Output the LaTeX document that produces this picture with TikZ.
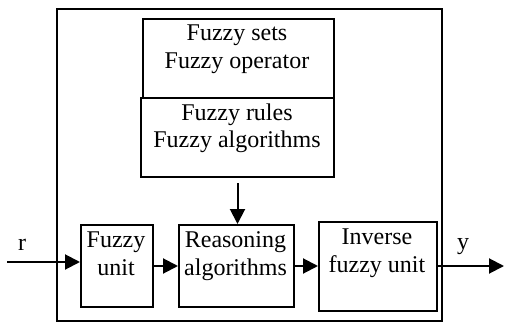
\documentclass[tikz,border=0pt]{standalone}
\usepackage{fontspec}
\setmainfont{Liberation Serif}
\usetikzlibrary{arrows.meta}
\begin{document}
\begin{tikzpicture}[x=1pt,y=-1pt,
  box/.style={draw,line width=2pt,inner sep=0pt,anchor=north west},
  lbl/.style={font=\fontsize{24}{28}\selectfont,align=center,inner sep=0pt,anchor=base},
  arr/.style={line width=2pt,-{Triangle[length=15pt,width=15pt]}}]
\useasboundingbox (0,0) rectangle (505,323);
\node[box,minimum width=385pt,minimum height=312pt] (outer) at (56,8) {};
\node[box,minimum width=191pt,minimum height=79pt] (fs) at (142,18) {};
\node[box,minimum width=193pt,minimum height=79pt] (fr) at (140,97) {};
\node[box,minimum width=72pt,minimum height=82pt] (fu) at (80,224) {};
\node[box,minimum width=115pt,minimum height=82pt] (ra) at (178,224) {};
\node[box,minimum width=118pt,minimum height=89pt] (inv) at (318,221) {};
\node[lbl] (fst) at (237,69) {Fuzzy sets\\Fuzzy operator};
\node[lbl] (frt) at (237,148) {Fuzzy rules\\Fuzzy algorithms};
\node[lbl] (fut) at (116,275) {Fuzzy\\unit};
\node[lbl] (rat) at (235.5,275) {Reasoning\\algorithms};
\node[lbl] (invt) at (377,272) {Inverse\\fuzzy unit};
\node[lbl] (r) at (22,250) {r};
\node[lbl] (y) at (463,249) {y};
\coordinate (in) at (7,262);
\coordinate (out) at (504,266);
\draw[arr] (in) -- (in -| fu.west);
\draw[arr] (fu.east) -- (ra.west);
\draw[arr] (ra.east) -- (ra.east -| inv.west);
\draw[arr] (inv.east |- out) -- (out);
\draw[arr] ([yshift=-5pt]fr.south) -- (fr.south |- ra.north);
\end{tikzpicture}
\end{document}
